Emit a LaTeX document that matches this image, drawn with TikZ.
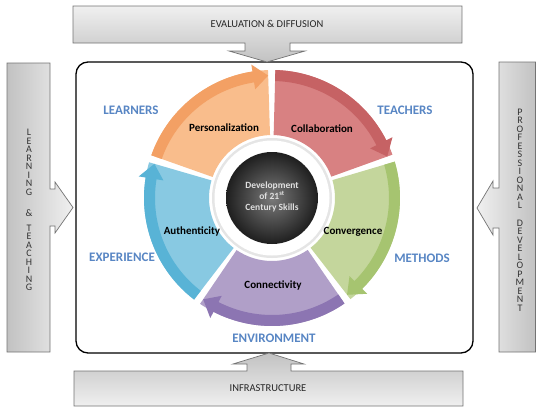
\documentclass[tikz,border=0pt]{standalone}
\usepackage{fontspec}
\setmainfont{Carlito}
\usetikzlibrary{calc}

% segment colours: body / outer arrow band
\definecolor{orBody}{RGB}{249,189,140}
\definecolor{orBand}{RGB}{243,160,100}
\definecolor{rdBody}{RGB}{216,129,130}
\definecolor{rdBand}{RGB}{198,98,100}
\definecolor{grBody}{RGB}{196,214,156}
\definecolor{grBand}{RGB}{166,196,112}
\definecolor{puBody}{RGB}{176,159,200}
\definecolor{puBand}{RGB}{140,117,178}
\definecolor{blBody}{RGB}{136,201,226}
\definecolor{blBand}{RGB}{88,179,214}
\definecolor{wordBlue}{RGB}{88,134,196}

% one arrow segment of the wheel: #1 end angle, #2 body colour, #3 band colour
\newcommand\wheelseg[3]{%
  \pgfmathsetmacro\sA{#1+72-1.5}%
  \pgfmathsetmacro\eA{#1+1.8}%
  \pgfmathsetmacro\hA{#1+8.8}%
  \fill[#2] (\sA:128) arc[start angle=\sA, end angle=\eA, radius=128]
     -- (\eA:63) arc[start angle=\eA, end angle=\sA, radius=63] -- cycle;
  \fill[#3] (\sA:128) arc[start angle=\sA, end angle=\hA, radius=128]
     -- (\hA:135) -- (\eA:122.5) -- (\hA:110) -- (\hA:117)
     arc[start angle=\hA, end angle=\sA, radius=117] -- cycle;
}

\begin{document}
\begin{tikzpicture}[x=1pt,y=-1pt,
  panel/.style={draw=black!55, line width=0.7pt},
  boxtext/.style={font=\fontsize{10.5}{11}\selectfont, text=black!85},
  sideletters/.style={font=\fontsize{10}{8.5}\selectfont, align=center, inner sep=0pt, text=black!80},
  seglabel/.style={font=\fontsize{11}{12}\selectfont\bfseries, text=black},
  outerlabel/.style={font=\fontsize{13}{14}\selectfont\bfseries, text=wordBlue},
  centertext/.style={font=\fontsize{9.5}{11}\selectfont\bfseries, text=black!12, align=center}]
\useasboundingbox (0,0) rectangle (536,407);

% frame around the wheel
\draw[line width=1.3pt, rounded corners=12pt, fill=white] (76,62) rectangle (473,353);

% top panel with downward arrow
\path[panel, top color=black!6, bottom color=black!24]
  (73,6) -- (462,6) -- (462,43) -- (290,43) -- (290,51) -- (305,51) -- (267,62)
  -- (229,51) -- (245,51) -- (245,43) -- (73,43) -- cycle;
\node[boxtext] (evaluation) at (267,24) {EVALUATION \& DIFFUSION};

% bottom panel with upward arrow
\path[panel, top color=black!24, bottom color=black!6]
  (74,406) -- (463,406) -- (463,371) -- (291,371) -- (291,364) -- (304,364) -- (269,353)
  -- (233,364) -- (247,364) -- (247,371) -- (74,371) -- cycle;
\node[boxtext] (infrastructure) at (268,388) {INFRASTRUCTURE};

% left panel with right arrow
\path[panel, left color=black!24, right color=black!6]
  (7,63) -- (50,63) -- (50,189) -- (55,189) -- (55,182) -- (73,207.5) -- (55,233)
  -- (55,226) -- (50,226) -- (50,352) -- (7,352) -- cycle;
\node[sideletters] (learning) at (29,162.5) {L\\E\\A\\R\\N\\I\\N\\G};
\node[sideletters] (amp) at (29,213) {\&};
\node[sideletters] (teaching) at (29,258) {T\\E\\A\\C\\H\\I\\N\\G};

% right panel with left arrow
\path[panel, left color=black!6, right color=black!24]
  (535.5,62) -- (499,62) -- (499,188) -- (493,188) -- (493,181) -- (477,208) -- (493,235)
  -- (493,228) -- (499,228) -- (499,352) -- (535.5,352) -- cycle;
\node[sideletters] (professional) at (520,159) {P\\R\\O\\F\\E\\S\\S\\I\\O\\N\\A\\L};
\node[sideletters] (development) at (520,265.5) {D\\E\\V\\E\\L\\O\\P\\M\\E\\N\\T};

% the wheel
\begin{scope}[shift={(272,198)}, yscale=-1]
  \wheelseg{90}{orBody}{orBand}
  \wheelseg{18}{rdBody}{rdBand}
  \wheelseg{-54}{grBody}{grBand}
  \wheelseg{-126}{puBody}{puBand}
  \wheelseg{162}{blBody}{blBand}
  \fill[black!10] (0,0) circle[radius=60];
  \fill[white] (0,0) circle[radius=57.5];
  \shade[inner color=black!52, outer color=black!88] (0,0) circle[radius=46];
\end{scope}
\node[centertext] (core) at (272,197) {Development\\of 21\textsuperscript{st}\\Century Skills};

% segment labels
\node[seglabel] (personalization) at (224,128) {Personalization};
\node[seglabel] (collaboration) at (322,129) {Collaboration};
\node[seglabel] (convergence) at (353,232) {Convergence};
\node[seglabel] (connectivity) at (273,285) {Connectivity};
\node[seglabel] (authenticity) at (192,231) {Authenticity};

% outer labels
\node[outerlabel] (learners) at (131,110) {LEARNERS};
\node[outerlabel] (teachers) at (405,110) {TEACHERS};
\node[outerlabel] (experience) at (122,257) {EXPERIENCE};
\node[outerlabel] (methods) at (422,258) {METHODS};
\node[outerlabel] (environment) at (274,338) {ENVIRONMENT};
\end{tikzpicture}
\end{document}
